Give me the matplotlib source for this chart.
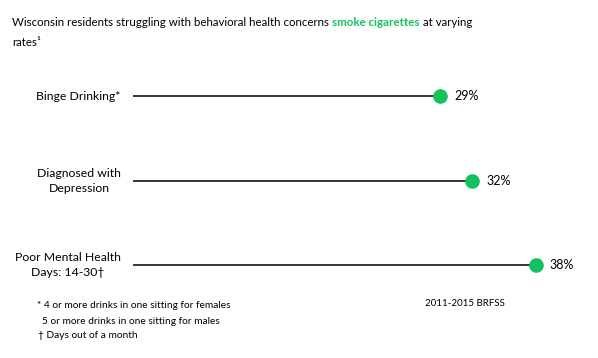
import matplotlib
matplotlib.use("Agg")
from matplotlib import pyplot as plt

plt.rcParams["font.family"] = ["Lato", "DejaVu Sans"]

# Data
categories = ["Binge Drinking*", "Diagnosed with\nDepression", "Poor Mental Health\nDays: 14-30\u2020"]
rates = [29, 32, 38]
rate_labels = ["29%", "32%", "38%"]

green = "#14c15e"

fig = plt.figure(figsize=(5.98, 3.58), dpi=100)
W, H = 598.0, 358.0

# axes: x=0 at px 133, 10.6 px per point; rows at px 96, 181, 265
ax_left, ax_right = 133, 598
ax_top, ax_bottom = 54, 307
ax = fig.add_axes([ax_left / W, 1 - ax_bottom / H, (ax_right - ax_left) / W, (ax_bottom - ax_top) / H])
ax.set_xlim(0, (ax_right - ax_left) / 10.6)
ax.set_ylim(ax_bottom, ax_top)
ax.axis("off")

row_y = [96, 181, 265]

for y, v, lab, txt in zip(row_y, rates, rate_labels, categories):
    ax.hlines(y, 0, v, color="black", linewidth=1.1)
    ax.plot(v, y, "o", color=green, markersize=9.5, zorder=3)
    ax.annotate(lab, (v, y), xytext=(10, 0), textcoords="offset points",
                ha="left", va="center", fontsize=9)
    fig.text(121 / W, 1 - y / H, txt, ha="right", va="center", multialignment="center",
             fontsize=8.8, linespacing=1.35)

# Title with green highlight
title_size = 8.3
t1 = fig.text(12 / W, 1 - 26 / H, "Wisconsin residents struggling with behavioral health concerns ",
              fontsize=title_size, ha="left", va="baseline")
t2 = fig.text(0, 0, "smoke cigarettes", fontsize=title_size, color=green, fontweight="bold")
t3 = fig.text(0, 0, " at varying", fontsize=title_size)
fig.canvas.draw()
r = fig.canvas.get_renderer()
bb1 = t1.get_window_extent(r)
t2.set_position((bb1.x1 / fig.bbox.width, 1 - 26 / H))
fig.canvas.draw()
bb2 = t2.get_window_extent(r)
t3.set_position((bb2.x1 / fig.bbox.width, 1 - 26 / H))
fig.text(12 / W, 1 - 46 / H, "rates\u00b9", fontsize=title_size, ha="left", va="baseline")

# Footnotes and source
fig.text(37 / W, 1 - 305 / H, "* 4 or more drinks in one sitting for females", fontsize=7.3, va="center")
fig.text(42 / W, 1 - 321 / H, "5 or more drinks in one sitting for males", fontsize=7.3, va="center")
fig.text(38 / W, 1 - 336 / H, "\u2020 Days out of a month", fontsize=7.3, va="center")
fig.text(425 / W, 1 - 304 / H, "2011-2015 BRFSS", fontsize=7, va="center")

plt.savefig("out.png", dpi=100)
